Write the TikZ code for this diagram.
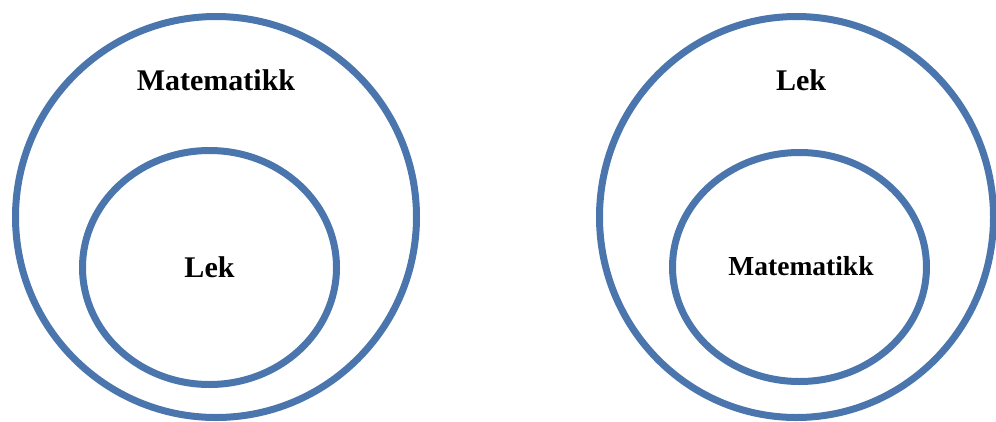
\documentclass[tikz,border=0pt]{standalone}
\usepackage{fontspec}
\setmainfont{Liberation Serif}
\usetikzlibrary{shapes.geometric}
\definecolor{ringblue}{RGB}{74,118,173}
\tikzset{
  ring/.style={draw=ringblue, line width=7pt, ellipse, inner sep=0pt, fill=none},
  lbl/.style={anchor=base, inner sep=0pt, font=\bfseries\fontsize{30}{36}\selectfont},
  lblsmall/.style={anchor=base, inner sep=0pt, font=\bfseries\fontsize{27.5}{33}\selectfont}
}
\begin{document}
\begin{tikzpicture}[x=1pt,y=-1pt]
\useasboundingbox (0,0) rectangle (996,421);
% left diagram
\node[ring, minimum width=401pt, minimum height=401pt] (outerL) at (216,217) {};
\node[ring, minimum width=254pt, minimum height=234pt] (innerL) at (209.5,267.5) {};
\node[lbl] (mathL) at (216,90) {Matematikk};
\node[lbl] (lekL) at (209.5,277) {Lek};
% right diagram
\node[ring, minimum width=394pt, minimum height=401pt] (outerR) at (796.5,217) {};
\node[ring, minimum width=254pt, minimum height=229pt] (innerR) at (799.5,267) {};
\node[lbl] (lekR) at (801,90) {Lek};
\node[lblsmall] (mathR) at (801,275) {Matematikk};
\end{tikzpicture}
\end{document}
